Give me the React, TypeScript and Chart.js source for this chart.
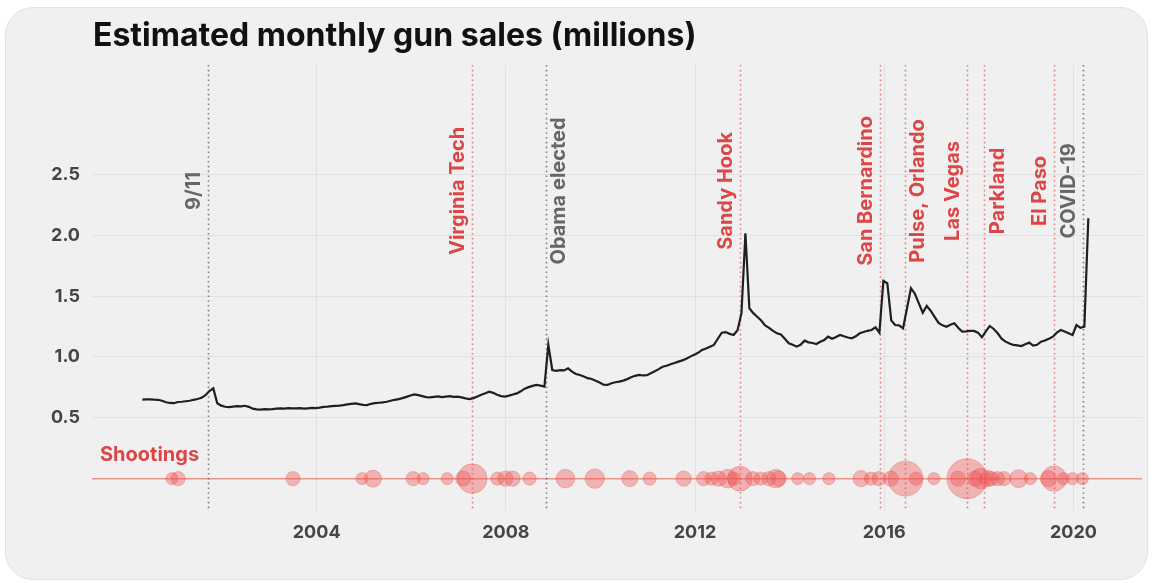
import React, { useEffect, useRef } from "react";
import { Chart, registerables } from "chart.js";

Chart.register(...registerables);

const TITLE = "Estimated monthly gun sales (millions)";
const SHOOTINGS_LABEL = "Shootings";

// first monthly estimate (decimal year), one value per month after that
const FIRST_MONTH = 2000.315;
const monthlySales = [
  0.65, 0.652, 0.651, 0.649, 0.648, 0.64, 0.628, 0.622, 0.62, 0.63, 0.632, 0.636,
  0.64, 0.648, 0.655, 0.664, 0.686, 0.72, 0.742, 0.62, 0.6, 0.591, 0.588, 0.592,
  0.596, 0.594, 0.599, 0.59, 0.575, 0.57, 0.568, 0.571, 0.57, 0.572, 0.575, 0.578,
  0.576, 0.58, 0.578, 0.577, 0.579, 0.575, 0.578, 0.581, 0.58, 0.584, 0.59, 0.592,
  0.596, 0.598, 0.6, 0.604, 0.61, 0.615, 0.619, 0.612, 0.606, 0.604, 0.615, 0.62,
  0.624, 0.627, 0.632, 0.64, 0.648, 0.654, 0.662, 0.672, 0.684, 0.693, 0.686, 0.678,
  0.67, 0.668, 0.672, 0.676, 0.67, 0.674, 0.678, 0.672, 0.674, 0.668, 0.66, 0.654,
  0.662, 0.676, 0.69, 0.702, 0.715, 0.705, 0.69, 0.678, 0.674, 0.682, 0.692, 0.701,
  0.718, 0.74, 0.752, 0.762, 0.77, 0.764, 0.756, 1.099, 0.893, 0.886, 0.892, 0.89,
  0.907, 0.88, 0.86, 0.852, 0.84, 0.826, 0.819, 0.805, 0.79, 0.772, 0.77, 0.784,
  0.792, 0.797, 0.806, 0.818, 0.833, 0.845, 0.852, 0.848, 0.85, 0.866, 0.882, 0.9,
  0.92, 0.928, 0.94, 0.95, 0.962, 0.972, 0.985, 1.003, 1.018, 1.034, 1.058, 1.07,
  1.085, 1.099, 1.15, 1.2, 1.205, 1.19, 1.181, 1.22, 1.36, 2.017, 1.4, 1.36,
  1.331, 1.3, 1.26, 1.24, 1.215, 1.195, 1.185, 1.15, 1.113, 1.1, 1.085, 1.1,
  1.134, 1.12, 1.115, 1.107, 1.125, 1.14, 1.167, 1.15, 1.165, 1.181, 1.17, 1.16,
  1.154, 1.17, 1.195, 1.205, 1.215, 1.222, 1.244, 1.2, 1.625, 1.606, 1.3, 1.263,
  1.26, 1.236, 1.4, 1.565, 1.52, 1.44, 1.364, 1.419, 1.38, 1.33, 1.28, 1.26,
  1.249, 1.265, 1.277, 1.24, 1.208, 1.21, 1.215, 1.214, 1.2, 1.162, 1.21, 1.255,
  1.23, 1.195, 1.15, 1.126, 1.11, 1.099, 1.095, 1.09, 1.105, 1.118, 1.093, 1.1,
  1.126, 1.135, 1.15, 1.167, 1.2, 1.222, 1.21, 1.195, 1.181, 1.263, 1.24, 1.25,
  2.141,
];

const xTickYears = [2004, 2008, 2012, 2016, 2020];
const yTickValues = [0, 0.5, 1, 1.5, 2, 2.5];

const eventNames = [
  "9/11", "Virginia Tech", "Obama elected", "Sandy Hook", "San Bernardino",
  "Pulse, Orlando", "Las Vegas", "Parkland", "El Paso", "COVID-19",
];
const eventDates = [2001.7, 2007.29, 2008.84, 2012.95, 2015.92, 2016.44, 2017.75, 2018.12, 2019.59, 2020.2];
const eventIsShooting = [false, true, false, true, true, true, true, true, true, false];

const shootingDates = [
  2000.94, 2001.07, 2003.5, 2004.96, 2005.19, 2006.04, 2006.25, 2006.76, 2007.1, 2007.29,
  2007.82, 2007.99, 2008.14, 2008.5, 2009.26, 2009.88, 2010.62, 2011.04, 2011.76, 2012.18,
  2012.35, 2012.5, 2012.69, 2012.82, 2012.95, 2013.22, 2013.39, 2013.56, 2013.71, 2013.77,
  2014.17, 2014.42, 2014.83, 2015.51, 2015.72, 2015.89, 2016.14, 2016.45, 2016.67, 2017.05,
  2017.56, 2017.75, 2017.92, 2018.04, 2018.19, 2018.27, 2018.4, 2018.53, 2018.84, 2019.09,
  2019.47, 2019.59, 2019.79, 2019.98, 2020.19,
];
const shootingDeaths = [
  5, 7, 7, 5, 10, 7, 5, 5, 8, 30,
  6, 8, 8, 6, 12, 13, 9, 6, 8, 7,
  6, 8, 12, 6, 21, 7, 6, 7, 12, 8,
  5, 5, 5, 9, 6, 7, 8, 42, 6, 5,
  8, 55, 8, 14, 9, 7, 7, 7, 11, 5,
  9, 22, 5, 5, 5,
];

const FONT = "Inter, 'Noto Sans', sans-serif";
const RED = "#dc4646";
const GRAY = "#666666";

const annotationPlugin = {
  id: "annotations",
  beforeDatasetsDraw(chart: any) {
    const { ctx, chartArea, scales } = chart;
    ctx.save();
    eventDates.forEach((d, i) => {
      const x = Math.round(scales.x.getPixelForValue(d)) + 0.5;
      ctx.strokeStyle = eventIsShooting[i] ? "rgba(222,100,100,0.8)" : "rgba(110,110,110,0.85)";
      ctx.lineWidth = 1.6;
      ctx.setLineDash([1.6, 3.2]);
      ctx.beginPath();
      ctx.moveTo(x, chartArea.top);
      ctx.lineTo(x, chartArea.bottom);
      ctx.stroke();
    });
    ctx.restore();
  },
  afterDatasetsDraw(chart: any) {
    const { ctx, scales } = chart;
    const rightSide = ["Obama elected", "Pulse, Orlando", "Parkland"];
    const cy = scales.y.getPixelForValue(2.365);
    ctx.save();
    ctx.font = `bold 20px ${FONT}`;
    eventNames.forEach((name, i) => {
      const x = scales.x.getPixelForValue(eventDates[i]);
      const right = rightSide.includes(name);
      ctx.save();
      ctx.fillStyle = eventIsShooting[i] ? RED : GRAY;
      ctx.textAlign = "center";
      if (right) {
        ctx.translate(x + 3, cy);
        ctx.rotate(-Math.PI / 2);
        ctx.textBaseline = "top";
      } else {
        ctx.translate(x - 8, cy);
        ctx.rotate(-Math.PI / 2);
        ctx.textBaseline = "alphabetic";
      }
      ctx.fillText(name, 0, 0);
      ctx.restore();
    });
    ctx.fillStyle = RED;
    ctx.textAlign = "left";
    ctx.textBaseline = "middle";
    ctx.font = `bold 20px ${FONT}`;
    ctx.fillText(SHOOTINGS_LABEL, 100, 455);
    ctx.fillStyle = "#111111";
    ctx.textBaseline = "alphabetic";
    ctx.font = `bold 32px ${FONT}`;
    ctx.fillText(TITLE, 93, 46);
    ctx.restore();
  },
};

export default function App() {
  const ref = useRef<HTMLCanvasElement | null>(null);

  useEffect(() => {
    const canvas = ref.current;
    if (!canvas) return;
    const lineData = monthlySales.map((v, i) => ({ x: FIRST_MONTH + i / 12, y: v }));
    const bubbleData = shootingDates.map((d, i) => ({ x: d, y: 0, r: 2.7 * Math.sqrt(shootingDeaths[i]) }));

    const chart = new Chart(canvas, {
      type: "line",
      data: {
        datasets: [
          {
            type: "line",
            label: "Estimated monthly gun sales",
            data: lineData,
            borderColor: "#1f1f1f",
            borderWidth: 2.2,
            pointRadius: 0,
            tension: 0,
            fill: false,
          },
          {
            type: "bubble",
            label: "Shootings",
            data: bubbleData,
            backgroundColor: "rgba(238,80,80,0.38)",
            borderColor: "rgba(232,70,70,0.3)",
            borderWidth: 1,
          },
        ],
      } as any,
      options: {
        animation: false,
        responsive: false,
        devicePixelRatio: 1,
        events: [],
        layout: { padding: { top: 65, right: 22, left: 0, bottom: 0 } },
        plugins: {
          legend: { display: false },
          tooltip: { enabled: false },
          title: { display: false },
        },
        scales: {
          x: {
            type: "linear",
            min: 1999.25,
            max: 2021.45,
            afterBuildTicks: (axis: any) => {
              axis.ticks = xTickYears.map((v) => ({ value: v }));
            },
            afterFit: (axis: any) => {
              axis.height = 72;
            },
            grid: { color: "#e1e1e1", drawTicks: false },
            border: { display: false },
            ticks: {
              padding: 11,
              color: "#454545",
              maxRotation: 0,
              font: { size: 18, weight: "bold", family: FONT },
              callback: (v: any) => String(v),
            },
          },
          y: {
            min: -0.266,
            max: 3.4,
            afterBuildTicks: (axis: any) => {
              axis.ticks = yTickValues.map((v) => ({ value: v }));
            },
            afterFit: (axis: any) => {
              axis.width = 92;
            },
            grid: {
              color: (c: any) => (c.tick && c.tick.value === 0 ? "rgba(232,140,125,0.9)" : "#e1e1e1"),
              lineWidth: (c: any) => (c.tick && c.tick.value === 0 ? 1.5 : 1),
              drawTicks: false,
            },
            border: { display: false },
            ticks: {
              padding: 12,
              color: "#454545",
              font: { size: 18, weight: "bold", family: FONT },
              callback: (v: any) => (Number(v) === 0 ? "" : Number(v).toFixed(1)),
            },
          },
        },
      } as any,
      plugins: [annotationPlugin],
    });
    return () => chart.destroy();
  }, []);

  return (
    <div style={{ position: "fixed", left: 0, top: 0, width: 1153, height: 583, background: "#ffffff", overflow: "hidden" }}>
      <div
        style={{
          position: "absolute",
          left: 5,
          top: 7,
          width: 1141,
          height: 571,
          borderRadius: 28,
          background: "#f0f0f0",
          border: "1px solid #e3e3e3",
        }}
      />
      <canvas ref={ref} width={1164} height={583} style={{ position: "absolute", left: 0, top: 0, width: 1164, height: 583 }} />
    </div>
  );
}
